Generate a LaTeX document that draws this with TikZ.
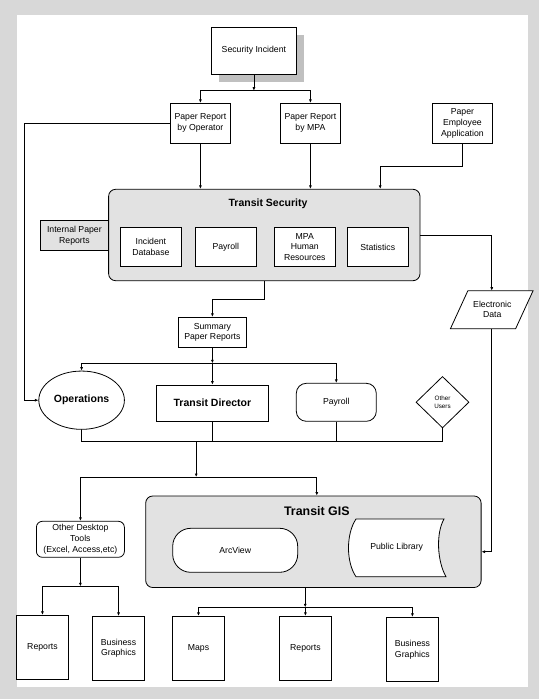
\documentclass[tikz,border=0pt]{standalone}
\usepackage{fontspec}
\setmainfont{Liberation Sans}
\usetikzlibrary{arrows.meta,shapes.geometric,shadows}
\definecolor{bggray}{RGB}{216,216,216}
\definecolor{boxgray}{RGB}{226,226,226}
\definecolor{shgray}{RGB}{192,192,192}
\begin{document}
\begin{tikzpicture}[x=1pt,y=-1pt,
  every node/.style={font=\fontsize{8.7}{10.8}\selectfont, align=center, inner sep=0pt, line width=0.8pt},
  sz/.style 2 args={minimum width=#1pt,minimum height=#2pt},
  box/.style={draw, fill=white, rectangle},
  grbox/.style={draw, fill=boxgray, rectangle},
  rbox/.style={draw, fill=white, rectangle, rounded corners=#1},
  bold/.style={font=\bfseries\fontsize{10.5}{12}\selectfont},
  ln/.style={line width=0.8pt},
  arr/.style={line width=0.8pt, -{Latex[length=3.5pt,width=3pt]}}
]
\useasboundingbox (0,0) rectangle (539,699);
\fill[bggray] (0,0) rectangle (539,699);
\fill[white] (16.5,15) rectangle (528,687);

% top
\node[box, sz={85}{46.7}, drop shadow={shadow xshift=8pt,shadow yshift=-8pt,fill=shgray,opacity=1}] (si) at (253.9,50.7) {Security Incident};
\node[box, sz={60}{40}] (pro) at (200.4,123.3) {Paper Report\\by Operator};
\node[box, sz={60}{40}] (prm) at (310.4,123.3) {Paper Report\\by MPA};
\node[box, sz={60}{40}] (pea) at (462.4,123.3) {Paper\\Employee\\Application};

% transit security
\node[grbox, sz={68.4}{29.6}] (ipr) at (74.4,235.5) {Internal Paper\\Reports};
\node[grbox, rounded corners=7pt, sz={311.4}{91.4}] (ts) at (264.3,235) {};
\node[font=\bfseries\fontsize{10.5}{12}\selectfont] (tst) at (268,204) {Transit Security};
\node[box, sz={61}{39.4}] (idb) at (150.9,247) {Incident\\Database};
\node[box, sz={61}{39.4}] (pay1) at (225.8,247) {Payroll};
\node[box, sz={61}{39.4}] (mpa) at (304.8,247) {MPA\\Human\\Resources};
\node[box, sz={61}{39.4}] (stat) at (377.7,247) {Statistics};

% electronic data
\node[sz={64.4}{37.3}] (ed) at (491.75,309.7) {};
\draw[ln, fill=white] ([xshift=8.75pt]ed.north west) -- ([xshift=8.75pt]ed.north east)
  -- ([xshift=-8.75pt]ed.south east) -- ([xshift=-8.75pt]ed.south west) -- cycle;
\node (edt) at (492.3,309.3) {Electronic\\Data};

\node[box, sz={68}{30}] (sum) at (212.4,332.3) {Summary\\Paper Reports};

% middle row
\node[draw, fill=white, ellipse, sz={85.6}{58.3}, bold] (ops) at (81.6,400.2) {Operations};
\node[box, sz={112}{36.3}, bold] (td) at (212.4,403.2) {Transit Director};
\node[rbox=10pt, sz={80}{38}] (pay2) at (336.3,402.3) {Payroll};
\node[draw, fill=white, diamond, aspect=1, sz={53}{51.5}, font=\fontsize{6.3}{8.4}\selectfont] (ou) at (442.5,402.2) {Other\\Users};

% GIS
\node[grbox, rounded corners=7pt, sz={335.4}{91.5}] (gis) at (313.4,541.75) {};
\node[font=\bfseries\fontsize{12.4}{14}\selectfont] (gist) at (316.8,510.7) {Transit GIS};
\node[rbox=18pt, sz={125}{44}] (arc) at (235.2,550.3) {ArcView};
\draw[ln, fill=white] (356,519) -- (444,519) .. controls (435.5,534) and (437.5,562) .. (446,576.7)
  -- (356,576.7) .. controls (346,562) and (346,534) .. (356,519) -- cycle;
\node (pub) at (396.7,547.7) {Public Library};

\node[rbox=6pt, sz={88}{36}] (odt) at (80.4,539.3) {Other Desktop\\Tools\\(Excel, Access,etc)};

% bottom
\node[box, sz={52}{64}] (rep1) at (42.45,647.3) {Reports};
\node[box, sz={51.5}{63.7}] (bg1) at (118.55,648.2) {Business\\Graphics};
\node[box, sz={52.5}{64.4}] (maps) at (198.5,648.5) {Maps};
\node[box, sz={52}{64.4}] (rep2) at (305.4,648.5) {Reports};
\node[box, sz={52.2}{64.4}] (bg2) at (412.4,649.5) {Business\\Graphics};

% connectors
\coordinate (j1) at (253.9,90.7);
\draw[arr] (si.south) -- (j1);
\draw[arr] (j1) -| (pro.north);
\draw[arr] (j1) -| (prm.north);

\coordinate (lc) at (24.7,123.3);
\draw[arr] (pro.west) -- (lc) |- (ops.west);

\draw[arr] (pro.south) -- (pro.south |- ts.north);
\draw[arr] (prm.south) -- (prm.south |- ts.north);
\coordinate (peaj) at (380.2,166);
\draw[arr] (pea.south) |- (peaj) -- (peaj |- ts.north);

\draw[arr] (ts.east) -| (ed.north);
\coordinate (tsj) at (212.4,299);
\draw[arr] (ts.south) |- (tsj) -- (sum.north);

\coordinate (sj) at (212.4,363.3);
\draw[arr] (sum.south) -- (sj);
\draw[arr] (sj) -| (ops.north);
\draw[arr] (sj) -- (td.north);
\draw[arr] (sj) -| (pay2.north);

\coordinate (cj) at (196.2,441);
\draw[ln] (ops.south) |- (ou.south |- cj) -- (ou.south);
\draw[ln] (td.south) -- (td.south |- cj);
\draw[ln] (pay2.south) -- (pay2.south |- cj);
\coordinate (gj) at (196.2,477);
\draw[arr] (cj) -- (gj);
\draw[arr] (gj) -| (odt.north);
\draw[arr] (gj) -| ([xshift=3.4pt]gis.north);

\draw[arr] (ed.south) |- ([yshift=-10pt]gis.east);

\coordinate (oj) at (80.4,586.3);
\draw[arr] (odt.south) -- (oj);
\draw[arr] (oj) -| (rep1.north);
\draw[arr] (oj) -| (bg1.north);

\coordinate (bj) at (305.2,607.3);
\draw[arr] (bj |- gis.south) -- (bj);
\draw[arr] (bj) -| (maps.north);
\draw[arr] (bj) -| (rep2.north);
\draw[arr] (bj) -| (bg2.north);
\end{tikzpicture}
\end{document}
